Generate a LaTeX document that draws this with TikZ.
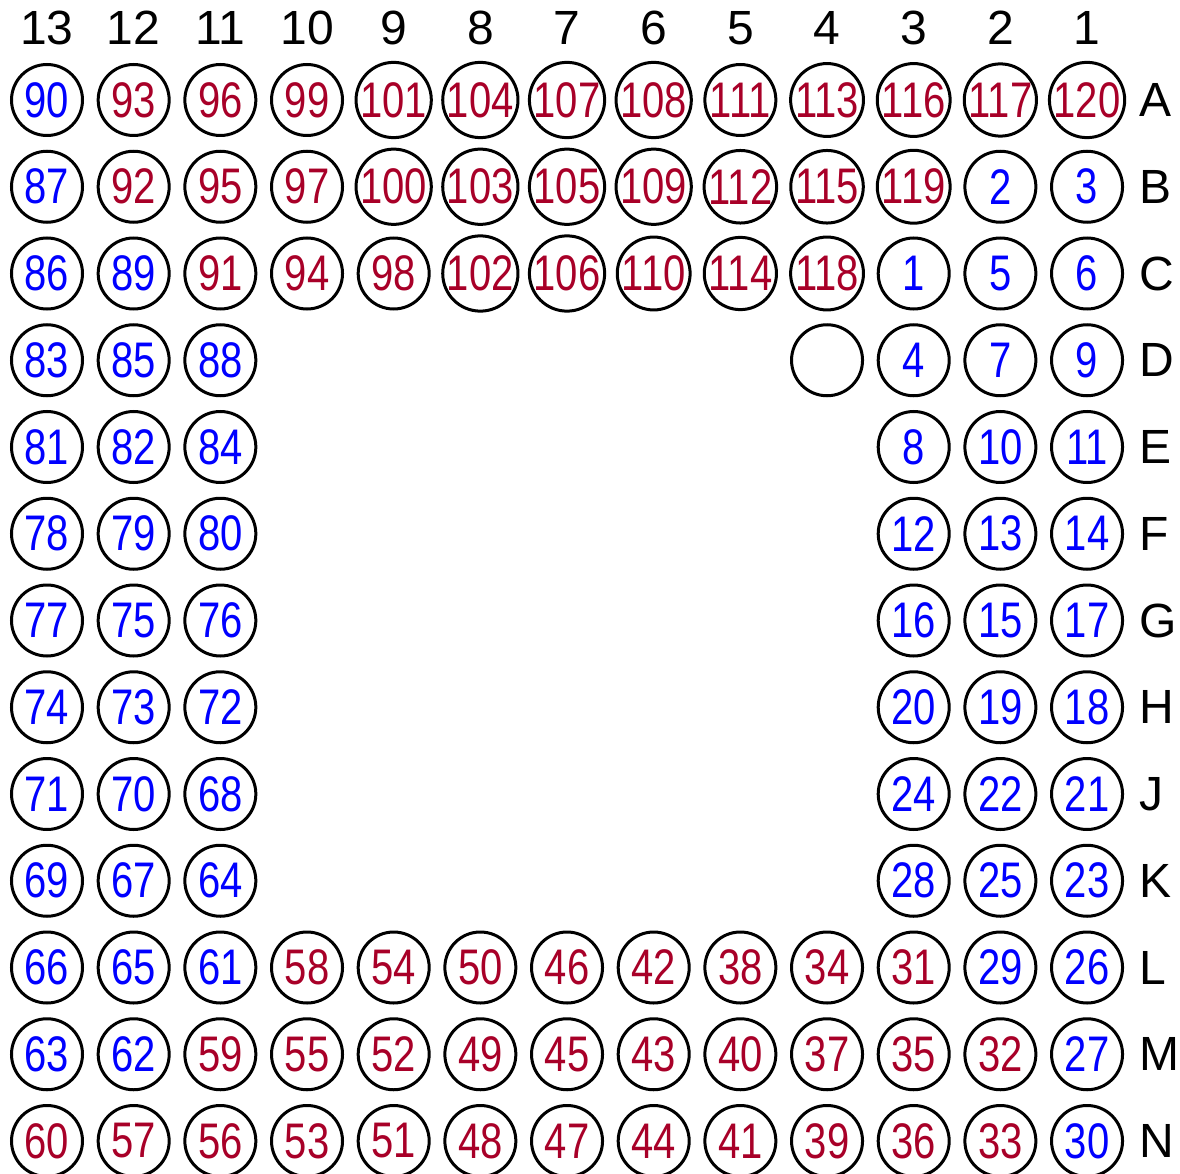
\documentclass[tikz,border=0pt]{standalone}
\usepackage{fontspec}
\setmainfont{Liberation Sans}
\newfontfamily\narrowfont[FakeStretch=0.8]{Liberation Sans}
\definecolor{pinblue}{RGB}{0,0,255}
\definecolor{pinred}{RGB}{168,0,40}
\begin{document}
\begin{tikzpicture}[x=1pt,y=-1pt,
  pin/.style={circle,draw=black,line width=3pt,minimum size=71pt,inner sep=0pt,
    font=\narrowfont\fontsize{50}{50}\selectfont},
  pb/.style={text=pinblue},
  pr/.style={text=pinred},
  hdr/.style={inner sep=0pt,font=\fontsize{48}{48}\selectfont},
  rowlbl/.style={inner sep=0pt,anchor=west,font=\fontsize{48}{48}\selectfont}]
\useasboundingbox (0,0) rectangle (1180,1174);
% column headers
\foreach \h [count=\i from 0] in {13,12,11,10,9,8,7,6,5,4,3,2,1}
  \node[hdr] (h\h) at ({47+\i*86.67},28) {\h};
% row labels
\foreach \l [count=\r from 0] in {A,B,C,D,E,F,G,H,J,K,L,M,N}
  \node[rowlbl] (r\l) at (1139,{100+\r*86.75}) {\l};
% top block
\foreach \lbl/\row [count=\r from 0] in {
  A/{90/pb,93/pr,96/pr,99/pr,101/pr,104/pr,107/pr,108/pr,111/pr,113/pr,116/pr,117/pr,120/pr},
  B/{87/pb,92/pr,95/pr,97/pr,100/pr,103/pr,105/pr,109/pr,112/pr,115/pr,119/pr,2/pb,3/pb},
  C/{86/pb,89/pb,91/pr,94/pr,98/pr,102/pr,106/pr,110/pr,114/pr,118/pr,1/pb,5/pb,6/pb}}
  {\foreach \n/\c [count=\i from 0] in \row
    \node[pin,\c] (p\lbl\i) at ({47+\i*86.67},{100+\r*86.75}) {\n};}
% bottom block
\foreach \lbl/\row [count=\r from 10] in {
  L/{66/pb,65/pb,61/pb,58/pr,54/pr,50/pr,46/pr,42/pr,38/pr,34/pr,31/pr,29/pb,26/pb},
  M/{63/pb,62/pb,59/pr,55/pr,52/pr,49/pr,45/pr,43/pr,40/pr,37/pr,35/pr,32/pr,27/pb},
  N/{60/pr,57/pr,56/pr,53/pr,51/pr,48/pr,47/pr,44/pr,41/pr,39/pr,36/pr,33/pr,30/pb}}
  {\foreach \n/\c [count=\i from 0] in \row
    \node[pin,\c] (p\lbl\i) at ({47+\i*86.67},{100+\r*86.75}) {\n};}
% left block
\foreach \lbl/\row [count=\r from 3] in {
  D/{83,85,88},E/{81,82,84},F/{78,79,80},G/{77,75,76},
  H/{74,73,72},J/{71,70,68},K/{69,67,64}}
  {\foreach \n [count=\i from 0] in \row
    \node[pin,pb] (p\lbl\i) at ({47+\i*86.67},{100+\r*86.75}) {\n};}
% right block
\foreach \lbl/\row [count=\r from 3] in {
  D/{4,7,9},E/{8,10,11},F/{12,13,14},G/{16,15,17},
  H/{20,19,18},J/{24,22,21},K/{28,25,23}}
  {\foreach \n [count=\i from 10] in \row
    \node[pin,pb] (p\lbl\i) at ({47+\i*86.67},{100+\r*86.75}) {\n};}
% empty pin
\node[pin] (pD9) at ({47+9*86.67},{100+3*86.75}) {};
\end{tikzpicture}
\end{document}
